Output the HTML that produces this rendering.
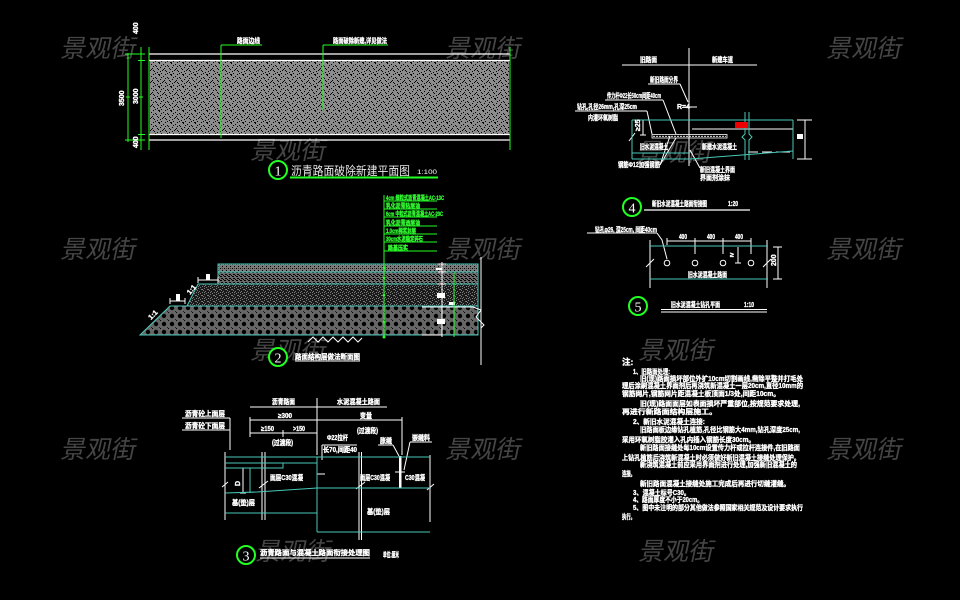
<!DOCTYPE html>
<html><head><meta charset="utf-8"><style>
html,body{margin:0;padding:0;background:#000;}
svg{display:block;}
text{font-family:"Liberation Sans","Noto Sans CJK SC",sans-serif;}
.t{fill:#fff;font-weight:bold;font-size:7px;stroke:#fff;stroke-width:0.35px;}
.g{fill:#3f3;font-weight:bold;font-size:6px;stroke:#3f3;stroke-width:0.3px;}
.wm{fill:#454545;font-size:25px;font-family:"Liberation Sans","Noto Sans CJK SC",sans-serif;}
</style></head><body>
<svg width="960" height="600" viewBox="0 0 960 600" xmlns="http://www.w3.org/2000/svg">
<defs>
<pattern id="spk" width="12" height="12" patternUnits="userSpaceOnUse">
<rect width="12" height="12" fill="#8c8c8c"/>
<g fill="#000">
<rect x="1" y="0" width="1" height="1"/><rect x="5" y="1" width="1" height="1"/><rect x="9" y="2" width="1" height="1"/>
<rect x="3" y="3" width="1" height="1"/><rect x="7" y="4" width="1" height="1"/><rect x="11" y="5" width="1" height="1"/>
<rect x="0" y="6" width="1" height="1"/><rect x="4" y="7" width="1" height="1"/><rect x="8" y="8" width="1" height="1"/>
<rect x="2" y="9" width="1" height="1"/><rect x="6" y="10" width="1" height="1"/><rect x="10" y="11" width="1" height="1"/>
<rect x="5" y="5" width="1" height="1"/><rect x="1" y="8" width="1" height="1"/><rect x="9" y="6" width="1" height="1"/>
<rect x="4" y="11" width="1" height="1"/><rect x="11" y="1" width="1" height="1"/><rect x="7" y="9" width="1" height="1"/>
<rect x="2" y="2" width="2" height="1"/><rect x="9" y="10" width="1" height="1"/>
</g></pattern>
<pattern id="pa" width="4" height="4" patternUnits="userSpaceOnUse">
<rect width="4" height="4" fill="#7a7a7a"/><rect x="0" y="0" width="1" height="1" fill="#000"/><rect x="2" y="2" width="1" height="1" fill="#000"/><rect x="2" y="0" width="1" height="1" fill="#333"/>
</pattern>
<pattern id="pb" width="4" height="4" patternUnits="userSpaceOnUse">
<rect width="4" height="4" fill="#6a6a6a"/><rect x="0" y="0" width="2" height="1" fill="#000"/><rect x="1" y="2" width="2" height="1" fill="#000"/><rect x="3" y="3" width="1" height="1" fill="#000"/>
</pattern>
<pattern id="pc" width="6" height="6" patternUnits="userSpaceOnUse">
<rect width="6" height="6" fill="#1a1a1a"/>
<g fill="#7a7a7a"><rect x="0" y="0" width="1" height="1"/><rect x="3" y="1" width="2" height="1"/><rect x="1" y="3" width="1" height="1"/><rect x="4" y="4" width="1" height="1"/><rect x="2" y="5" width="1" height="1"/><rect x="5" y="2" width="1" height="1"/><rect x="0" y="4" width="1" height="1"/></g>
</pattern>
<pattern id="pd" width="8" height="8" patternUnits="userSpaceOnUse">
<rect width="8" height="8" fill="#666"/><circle cx="4" cy="4" r="2.2" fill="#000"/><rect x="0" y="0" width="1" height="1" fill="#000"/><rect x="7" y="7" width="1" height="1" fill="#222"/>
</pattern>
</defs>
<rect width="960" height="600" fill="#000"/>

<!-- watermarks -->
<g class="wm">
<text transform="translate(60,57) skewX(-12)">景观街</text>
<text transform="translate(445,57) skewX(-12)">景观街</text>
<text transform="translate(826,57) skewX(-12)">景观街</text>
<text transform="translate(250,159) skewX(-12)">景观街</text>
<text transform="translate(636,161) skewX(-12)">景观街</text>
<text transform="translate(60,258) skewX(-12)">景观街</text>
<text transform="translate(445,258) skewX(-12)">景观街</text>
<text transform="translate(826,258) skewX(-12)">景观街</text>
<text transform="translate(250,359) skewX(-12)">景观街</text>
<text transform="translate(638,359) skewX(-12)">景观街</text>
<text transform="translate(60,458) skewX(-12)">景观街</text>
<text transform="translate(445,458) skewX(-12)">景观街</text>
<text transform="translate(826,458) skewX(-12)">景观街</text>
<text transform="translate(255,560) skewX(-12)">景观街</text>
<text transform="translate(638,560) skewX(-12)">景观街</text>
</g>

<!-- ========== Drawing 1 ========== -->
<rect x="150" y="61" width="359" height="73" fill="url(#spk)"/>
<g stroke="#fff" stroke-width="1.2">
<line x1="149" y1="54" x2="510" y2="54"/><line x1="149" y1="60.5" x2="510" y2="60.5"/>
<line x1="149" y1="134.5" x2="510" y2="134.5"/><line x1="149" y1="140" x2="510" y2="140"/>
</g>
<g stroke="#2f2" stroke-width="1">
<line x1="149" y1="47" x2="149" y2="150"/><line x1="510" y1="47" x2="510" y2="150"/>
<line x1="221" y1="45" x2="221" y2="138"/><line x1="323" y1="45" x2="323" y2="110"/>
<line x1="221" y1="45" x2="262" y2="45"/><line x1="323" y1="45" x2="388" y2="45"/>
<line x1="128" y1="53" x2="128" y2="142"/><line x1="141" y1="47" x2="141" y2="150"/>
<line x1="125" y1="54" x2="145" y2="54"/><line x1="125" y1="140" x2="145" y2="140"/>
<line x1="138" y1="60.5" x2="145" y2="60.5"/><line x1="138" y1="134.5" x2="145" y2="134.5"/>
<line x1="126" y1="97" x2="130" y2="97"/><line x1="139" y1="97" x2="143" y2="97"/>
</g>
<text class="t" x="237" y="43" font-size="6" textLength="23" lengthAdjust="spacingAndGlyphs">路面边线</text>
<text class="t" x="333" y="43" font-size="6" textLength="54" lengthAdjust="spacingAndGlyphs">路面破除新建,详见做法</text>
<text class="t" font-size="6" transform="translate(138,34) rotate(-90)">400</text>
<text class="t" font-size="6" transform="translate(124,106) rotate(-90)">3500</text>
<text class="t" font-size="6" transform="translate(138,104) rotate(-90)">3000</text>
<text class="t" font-size="6" transform="translate(138,148) rotate(-90)">400</text>
<circle cx="278" cy="170" r="9" fill="#000" stroke="#2f2" stroke-width="2"/>
<text x="278" y="175.5" fill="#fff" font-size="14" text-anchor="middle" style="font-family:'Liberation Serif',serif">1</text>
<text x="291" y="175" fill="#e8e8e8" font-size="12" textLength="119" lengthAdjust="spacingAndGlyphs">沥青路面破除新建平面图</text>
<text x="417" y="174" fill="#fff" font-size="6" textLength="20" lengthAdjust="spacingAndGlyphs">1:100</text>
<line x1="290" y1="177.5" x2="438" y2="177.5" stroke="#2f2" stroke-width="2"/>

<!-- ========== Drawing 2 ========== -->
<polygon points="140,335 170,306 478,306 478,335" fill="url(#pd)" stroke="#48c8b8" stroke-width="1"/>
<polygon points="187,306 198,284 478,284 478,306" fill="url(#pc)" stroke="#48c8b8" stroke-width="1"/>
<rect x="218" y="272" width="260" height="12" fill="url(#pb)" stroke="#48c8b8" stroke-width="1"/>
<rect x="218" y="264" width="260" height="8" fill="url(#pa)" stroke="#48c8b8" stroke-width="1"/>
<line x1="218" y1="264" x2="218" y2="284" stroke="#48c8b8" stroke-width="1"/>
<g stroke="#fff" stroke-width="1" fill="none">
<line x1="481" y1="257" x2="481" y2="365"/>
<polyline points="473,307 481,310 476,317 484,325 481,328"/>
<line x1="422" y1="307" x2="473" y2="307"/>
<line x1="422" y1="335" x2="442" y2="335"/>
<line x1="442" y1="262" x2="442" y2="337"/>
<line x1="438" y1="264" x2="446" y2="264"/><line x1="438" y1="272" x2="446" y2="272"/><line x1="438" y1="284" x2="446" y2="284"/>
<polyline points="308,342 313,337 318,342 323,337 328,342 333,337 338,342 343,337 348,342 353,337 358,342 362,338"/>
<line x1="198" y1="280" x2="218" y2="280"/><line x1="198" y1="277" x2="198" y2="283"/><line x1="218" y1="277" x2="218" y2="283"/>
<line x1="170" y1="301" x2="185" y2="301"/><line x1="170" y1="298" x2="170" y2="304"/><line x1="185" y1="298" x2="185" y2="304"/>
</g>
<rect x="206" y="274" width="4" height="6" fill="#fff"/>
<rect x="176" y="294" width="4" height="7" fill="#fff"/>
<text class="t" font-size="5" transform="translate(190,295) rotate(-50)">1:1</text>
<text class="t" font-size="5" transform="translate(151,320) rotate(-45)">1:1</text>
<rect x="437" y="293" width="8" height="5" fill="#fff"/>
<rect x="437" y="319" width="8" height="5" fill="#fff"/>
<rect x="436" y="268" width="6" height="2" fill="#fff"/>
<rect x="449" y="302" width="6" height="3" fill="#fff"/>
<g stroke="#2f2" stroke-width="1">
<line x1="384" y1="195" x2="384" y2="338"/>
<line x1="454" y1="273" x2="454" y2="337"/>
<line x1="384" y1="201" x2="437" y2="201"/><line x1="384" y1="209" x2="437" y2="209"/>
<line x1="384" y1="217" x2="437" y2="217"/><line x1="384" y1="226" x2="437" y2="226"/>
<line x1="384" y1="234" x2="437" y2="234"/><line x1="384" y1="242" x2="437" y2="242"/>
<line x1="384" y1="251" x2="437" y2="251"/>
</g>
<g fill="#2f2"><circle cx="384" cy="268" r="1.3"/><circle cx="384" cy="278" r="1.3"/><circle cx="384" cy="295" r="1.3"/><circle cx="384" cy="322" r="1.3"/><circle cx="384" cy="337" r="1.5"/></g>
<text class="g" x="386" y="200" textLength="58" lengthAdjust="spacingAndGlyphs">4cm 细粒式沥青混凝土AC-13C</text>
<text class="g" x="386" y="208" textLength="34" lengthAdjust="spacingAndGlyphs">乳化沥青粘层油</text>
<text class="g" x="386" y="216" textLength="57" lengthAdjust="spacingAndGlyphs">6cm 中粒式沥青混凝土AC-20C</text>
<text class="g" x="386" y="225" textLength="34" lengthAdjust="spacingAndGlyphs">乳化沥青透层油</text>
<text class="g" x="386" y="233" textLength="30" lengthAdjust="spacingAndGlyphs">1.0cm稀浆封层</text>
<text class="g" x="386" y="241" textLength="37" lengthAdjust="spacingAndGlyphs">30cm水泥稳定碎石</text>
<text class="g" x="388" y="250" textLength="20" lengthAdjust="spacingAndGlyphs">路基压实</text>
<circle cx="278" cy="357" r="9" fill="#000" stroke="#2f2" stroke-width="2"/>
<text x="278" y="362.5" fill="#fff" font-size="14" text-anchor="middle" style="font-family:'Liberation Serif',serif">2</text>
<text class="t" x="295" y="359" textLength="65" lengthAdjust="spacingAndGlyphs">路面结构层做法断面图</text>
<line x1="295" y1="361" x2="360" y2="361" stroke="#fff" stroke-width="1"/>

<!-- ========== Drawing 3 ========== -->
<g stroke="#fff" stroke-width="1" fill="none">
<line x1="250" y1="407" x2="387" y2="407"/>
<line x1="250" y1="420" x2="402" y2="420"/>
<line x1="250" y1="433" x2="317" y2="433"/>
<line x1="317" y1="398" x2="317" y2="455"/>
<line x1="250" y1="417" x2="250" y2="437"/>
<line x1="402" y1="417" x2="402" y2="455"/>
<line x1="283" y1="430" x2="283" y2="437"/>
<line x1="182" y1="418" x2="230" y2="418"/>
<line x1="182" y1="430" x2="230" y2="430"/>
<line x1="230" y1="418" x2="230" y2="450"/>
<line x1="225" y1="452" x2="225" y2="520"/>
<line x1="262" y1="452" x2="262" y2="520"/><line x1="265" y1="452" x2="265" y2="520"/>
<line x1="359" y1="452" x2="359" y2="540"/><line x1="361.5" y1="452" x2="361.5" y2="540"/>
<line x1="430" y1="455" x2="430" y2="522"/>
<line x1="243" y1="468" x2="243" y2="493"/><line x1="240" y1="493" x2="246" y2="493"/>
<line x1="322" y1="445" x2="357" y2="445"/><line x1="322" y1="445" x2="322" y2="460"/>
<line x1="317" y1="474" x2="325" y2="474"/>
<line x1="378" y1="445" x2="393" y2="445"/><line x1="393" y1="445" x2="399" y2="456"/>
<line x1="410" y1="442" x2="432" y2="442"/><line x1="410" y1="442" x2="404" y2="470"/>
<line x1="395" y1="472" x2="405" y2="472"/>
<polyline points="222,487 228,482"/><polyline points="259,488 268,481"/><polyline points="356,489 365,482"/><polyline points="427,490 434,484"/>
</g>
<rect x="399" y="456" width="2.5" height="32" fill="#fff"/>
<g stroke="#48c8b8" stroke-width="1" fill="none">
<line x1="225" y1="457" x2="430" y2="457"/>
<line x1="225" y1="463" x2="317" y2="463"/>
<polyline points="225,468 283,468 283,463"/>
<line x1="317" y1="457" x2="317" y2="532"/>
<line x1="250" y1="468" x2="250" y2="493"/>
<polyline points="225,493 257,492 317,488 430,488"/>
<line x1="225" y1="513" x2="317" y2="513"/>
<line x1="317" y1="532" x2="430" y2="532"/>
</g>
<text class="t" x="272" y="404" textLength="23" lengthAdjust="spacingAndGlyphs">沥青路面</text>
<text class="t" x="337" y="404" textLength="43" lengthAdjust="spacingAndGlyphs">水泥混凝土路面</text>
<text class="t" x="278" y="418" textLength="14" lengthAdjust="spacingAndGlyphs">≥300</text>
<text class="t" x="360" y="418" textLength="12" lengthAdjust="spacingAndGlyphs">变量</text>
<text class="t" x="261" y="431" textLength="13" lengthAdjust="spacingAndGlyphs">≥150</text>
<text class="t" x="293" y="431" textLength="12" lengthAdjust="spacingAndGlyphs">&gt;150</text>
<text class="t" x="357" y="433" textLength="21" lengthAdjust="spacingAndGlyphs">(过渡段)</text>
<text class="t" x="272" y="445" textLength="21" lengthAdjust="spacingAndGlyphs">(过渡段)</text>
<text class="t" x="185" y="416" textLength="40" lengthAdjust="spacingAndGlyphs">沥青砼上面层</text>
<text class="t" x="185" y="428" textLength="40" lengthAdjust="spacingAndGlyphs">沥青砼下面层</text>
<text class="t" x="327" y="440" textLength="21" lengthAdjust="spacingAndGlyphs">Φ22拉杆</text>
<text class="t" x="323" y="452" textLength="34" lengthAdjust="spacingAndGlyphs">长70,间距40</text>
<text class="t" x="380" y="443" textLength="12" lengthAdjust="spacingAndGlyphs">胀缝</text>
<text class="t" x="412" y="440" textLength="18" lengthAdjust="spacingAndGlyphs">嵌缝料</text>
<text class="t" x="270" y="480" textLength="33" lengthAdjust="spacingAndGlyphs">面层C30混凝</text>
<text class="t" x="360" y="480" textLength="30" lengthAdjust="spacingAndGlyphs">面层C30混凝</text>
<text class="t" x="405" y="480" textLength="20" lengthAdjust="spacingAndGlyphs">C30混凝</text>
<text class="t" x="232" y="505" textLength="23" lengthAdjust="spacingAndGlyphs">基(垫)层</text>
<text class="t" x="367" y="514" textLength="23" lengthAdjust="spacingAndGlyphs">基(垫)层</text>
<text class="t" font-size="6" transform="translate(240,486) rotate(-90)">D</text>
<circle cx="246" cy="555" r="9" fill="#000" stroke="#2f2" stroke-width="2"/>
<text x="246" y="560.5" fill="#fff" font-size="14" text-anchor="middle" style="font-family:'Liberation Serif',serif">3</text>
<text class="t" x="260" y="555" font-size="8" textLength="110" lengthAdjust="spacingAndGlyphs">沥青路面与混凝土路面衔接处理图</text>
<line x1="260" y1="558" x2="370" y2="558" stroke="#fff" stroke-width="1"/>
<text class="t" x="383" y="557" font-size="5" textLength="16" lengthAdjust="spacingAndGlyphs">单位:厘米</text>

<!-- ========== Drawing 4 ========== -->
<g stroke="#fff" stroke-width="1" fill="none">
<line x1="622" y1="65" x2="757" y2="65"/>
<line x1="689" y1="48" x2="689" y2="166"/>
<line x1="648" y1="84" x2="680" y2="84"/><line x1="680" y1="84" x2="688" y2="102"/>
<line x1="605" y1="100" x2="663" y2="100"/><line x1="663" y1="100" x2="676" y2="134"/>
<line x1="575" y1="111" x2="647" y2="111"/><line x1="647" y1="111" x2="652" y2="134"/>
<line x1="683" y1="107" x2="697" y2="107"/>
<line x1="692" y1="129" x2="793" y2="129"/>
<rect x="652" y="134.5" width="75" height="3.5" stroke-width="0.8"/>
<line x1="805" y1="120" x2="805" y2="159"/><line x1="797" y1="120" x2="812" y2="120"/><line x1="797" y1="159" x2="812" y2="159"/>
<line x1="643" y1="120" x2="643" y2="135"/><line x1="640" y1="135" x2="646" y2="135"/>
<line x1="660" y1="165" x2="670" y2="136"/><line x1="660" y1="165" x2="676" y2="138"/>
<line x1="700" y1="168" x2="690" y2="150"/>
<line x1="629" y1="141" x2="635" y2="133"/>
<line x1="748" y1="152" x2="758" y2="152"/><line x1="762" y1="152" x2="772" y2="152"/><line x1="776" y1="152" x2="790" y2="152"/>
</g>
<line x1="653" y1="136.3" x2="726" y2="136.3" stroke="#fff" stroke-width="0.8" stroke-dasharray="2,1"/>
<g stroke="#48c8b8" stroke-width="1" fill="none">
<line x1="632" y1="120" x2="793" y2="120"/>
<line x1="632" y1="120" x2="632" y2="159"/><line x1="793" y1="120" x2="793" y2="159"/>
<line x1="632" y1="159" x2="689" y2="159"/>
<line x1="632" y1="153" x2="689" y2="153"/>
<line x1="690" y1="159" x2="793" y2="151"/>
<polyline points="745,112 745,134 742,137 745,140 745,160"/>
<polyline points="749,112 749,134 752,137 749,140 749,160"/>
</g>
<rect x="735" y="122" width="13" height="6" fill="#e00"/>
<rect x="797" y="134" width="6" height="5" fill="#fff"/>
<text class="t" x="640" y="62" font-size="6" textLength="17" lengthAdjust="spacingAndGlyphs">旧路面</text>
<text class="t" x="712" y="62" font-size="6" textLength="21" lengthAdjust="spacingAndGlyphs">新建车道</text>
<text class="t" x="650" y="82" font-size="6" textLength="28" lengthAdjust="spacingAndGlyphs">新旧路面分界</text>
<text class="t" x="607" y="98" font-size="6" textLength="54" lengthAdjust="spacingAndGlyphs">传力杆Φ22长50cm间距40cm</text>
<text class="t" x="577" y="109" font-size="6" textLength="60" lengthAdjust="spacingAndGlyphs">钻孔,孔径26mm,孔深25cm</text>
<text class="t" x="588" y="120" font-size="6" textLength="30" lengthAdjust="spacingAndGlyphs">内灌环氧树脂</text>
<text class="t" x="677" y="109" font-size="5">R=4</text>
<text class="t" font-size="5" transform="translate(640,131) rotate(-90)">≥25</text>
<text class="t" x="640" y="149" font-size="6" textLength="28" lengthAdjust="spacingAndGlyphs">旧水泥混凝土</text>
<text class="t" x="702" y="149" font-size="6" textLength="35" lengthAdjust="spacingAndGlyphs">新建水泥混凝土</text>
<text class="t" x="618" y="167" font-size="6" textLength="42" lengthAdjust="spacingAndGlyphs">钢筋Φ12加强钢筋</text>
<text class="t" x="700" y="172" font-size="6" textLength="35" lengthAdjust="spacingAndGlyphs">新旧混凝土界面</text>
<text class="t" x="700" y="180" font-size="6" textLength="30" lengthAdjust="spacingAndGlyphs">界面剂涂抹</text>
<circle cx="632" cy="207" r="9" fill="#000" stroke="#2f2" stroke-width="2"/>
<text x="632" y="212.5" fill="#fff" font-size="14" text-anchor="middle" style="font-family:'Liberation Serif',serif">4</text>
<text class="t" x="652" y="206" font-size="6" textLength="55" lengthAdjust="spacingAndGlyphs">新旧水泥混凝土路面衔接图</text>
<text class="t" x="728" y="206" font-size="6" textLength="10" lengthAdjust="spacingAndGlyphs">1:20</text>
<line x1="644" y1="210" x2="750" y2="210" stroke="#fff" stroke-width="1.2"/>

<!-- ========== Drawing 5 ========== -->
<g stroke="#fff" stroke-width="1" fill="none">
<line x1="587" y1="233" x2="657" y2="233"/>
<polyline points="657,233 662,240 667,259"/>
<line x1="667" y1="241" x2="751" y2="241"/>
<line x1="667" y1="238" x2="667" y2="245"/><line x1="695" y1="238" x2="695" y2="254"/>
<line x1="723" y1="238" x2="723" y2="254"/><line x1="751" y1="238" x2="751" y2="254"/>
<line x1="650" y1="240" x2="650" y2="288"/><line x1="767" y1="240" x2="767" y2="288"/>
<polyline points="646,267 654,259"/><polyline points="763,267 771,259"/>
<circle cx="667" cy="263" r="2.8"/><circle cx="695" cy="263" r="2.8"/><circle cx="723" cy="263" r="2.8"/><circle cx="751" cy="263" r="2.8"/>
<line x1="738" y1="247" x2="738" y2="263"/><line x1="735" y1="263" x2="741" y2="263"/>
<line x1="778" y1="247" x2="778" y2="279"/><line x1="773" y1="247" x2="782" y2="247"/><line x1="773" y1="279" x2="782" y2="279"/>
</g>
<g stroke="#48c8b8" stroke-width="1"><line x1="650" y1="246" x2="768" y2="246"/><line x1="650" y1="279" x2="768" y2="279"/></g>
<text class="t" x="595" y="232" font-size="6" textLength="62" lengthAdjust="spacingAndGlyphs">钻孔φ26, 深25cm, 间距40cm</text>
<text class="t" x="679" y="239" font-size="5" textLength="8" lengthAdjust="spacingAndGlyphs">400</text>
<text class="t" x="707" y="239" font-size="5" textLength="8" lengthAdjust="spacingAndGlyphs">400</text>
<text class="t" x="735" y="239" font-size="5" textLength="8" lengthAdjust="spacingAndGlyphs">400</text>
<text class="t" x="730" y="257" font-size="5">≥</text>
<text class="t" font-size="5" transform="translate(776,266) rotate(-90)">200</text>
<text class="t" x="688" y="277" font-size="6" textLength="39" lengthAdjust="spacingAndGlyphs">旧水泥混凝土路面</text>
<circle cx="638" cy="306" r="9" fill="#000" stroke="#2f2" stroke-width="2"/>
<text x="638" y="311.5" fill="#fff" font-size="14" text-anchor="middle" style="font-family:'Liberation Serif',serif">5</text>
<text class="t" x="671" y="307" font-size="6" textLength="49" lengthAdjust="spacingAndGlyphs">旧水泥混凝土钻孔平面</text>
<text class="t" x="744" y="307" font-size="6" textLength="10" lengthAdjust="spacingAndGlyphs">1:10</text>
<line x1="661" y1="309.5" x2="767" y2="309.5" stroke="#fff" stroke-width="1"/>
<line x1="661" y1="312" x2="767" y2="312" stroke="#fff" stroke-width="1"/>

<!-- ========== Notes ========== -->
<g class="t" font-size="7.5">
<text x="622" y="365" font-size="8.5">注:</text>
<text x="633" y="374" textLength="37" lengthAdjust="spacingAndGlyphs">1、旧路面处理:</text>
<text x="640" y="381" textLength="163" lengthAdjust="spacingAndGlyphs">旧(现)路面损坏部位外扩10cm切割画线,凿除平整并打毛处</text>
<text x="622" y="388" textLength="181" lengthAdjust="spacingAndGlyphs">理后涂刷混凝土界面剂后再浇筑新混凝土一层20cm,直径10mm的</text>
<text x="622" y="396" textLength="158" lengthAdjust="spacingAndGlyphs">钢筋网片,钢筋网片距混凝土板顶面1/3处,间距10cm。</text>
<text x="640" y="406" textLength="160" lengthAdjust="spacingAndGlyphs">旧(现)路面面层如表面损坏严重部位,按规范要求处理,</text>
<text x="622" y="414" textLength="95" lengthAdjust="spacingAndGlyphs">再进行新路面结构层施工。</text>
<text x="633" y="424" textLength="72" lengthAdjust="spacingAndGlyphs">2、新旧水泥混凝土连接:</text>
<text x="640" y="432" textLength="160" lengthAdjust="spacingAndGlyphs">旧路面板边缘钻孔植筋,孔径比钢筋大4mm,钻孔深度25cm,</text>
<text x="622" y="442" textLength="133" lengthAdjust="spacingAndGlyphs">采用环氧树脂胶灌入孔内插入钢筋长度30cm。</text>
<text x="640" y="450" textLength="160" lengthAdjust="spacingAndGlyphs">新旧路面接缝处每10cm设置传力杆或拉杆连接件,在旧路面</text>
<text x="622" y="460" textLength="178" lengthAdjust="spacingAndGlyphs">上钻孔植筋后浇筑新混凝土时必须做好新旧混凝土接缝处理保护。</text>
<text x="640" y="467" textLength="157" lengthAdjust="spacingAndGlyphs">新浇筑混凝土前应采用界面剂进行处理,加强新旧混凝土的</text>
<text x="622" y="476" textLength="13" lengthAdjust="spacingAndGlyphs">连接。</text>
<text x="640" y="486" textLength="150" lengthAdjust="spacingAndGlyphs">新旧路面混凝土接缝处施工完成后再进行切缝灌缝。</text>
<text x="633" y="495" textLength="57" lengthAdjust="spacingAndGlyphs">3、混凝土标号C30。</text>
<text x="633" y="502" textLength="70" lengthAdjust="spacingAndGlyphs">4、路面厚度不小于20cm。</text>
<text x="633" y="510" textLength="170" lengthAdjust="spacingAndGlyphs">5、图中未注明的部分其他做法参照国家相关规范及设计要求执行</text>
<text x="622" y="519" textLength="13" lengthAdjust="spacingAndGlyphs">执行。</text>
</g>
</svg>
</body></html>
